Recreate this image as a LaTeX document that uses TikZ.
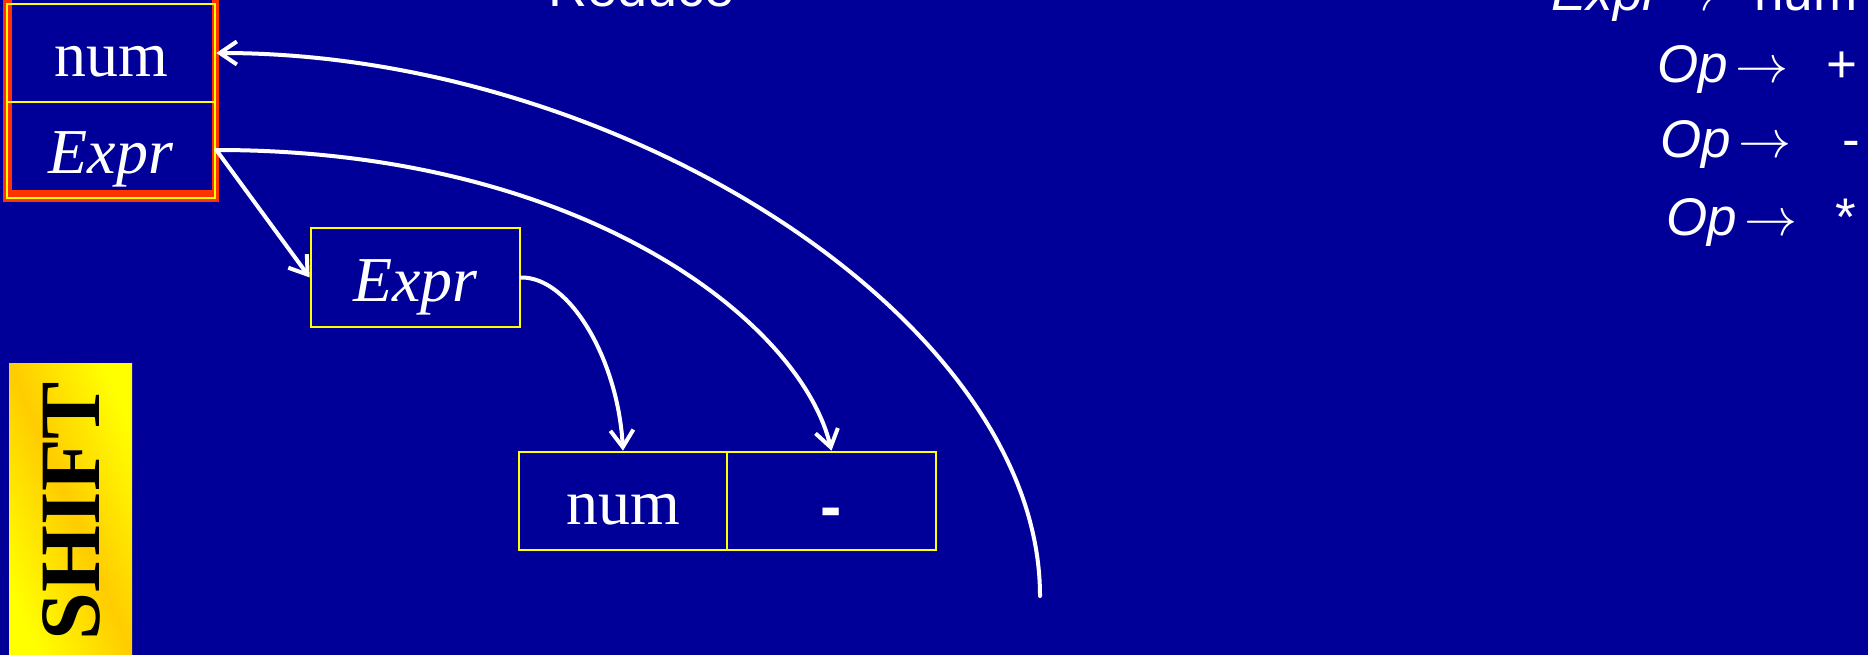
\documentclass[tikz,border=0pt]{standalone}
\usepackage{fontspec}
\setmainfont{Liberation Serif}
\newfontfamily\sansf{Liberation Sans}
\DeclareFontShape{OMS}{cmsy}{m}{n}{<->cmsy10}{}
\DeclareFontShape{OML}{cmm}{m}{it}{<->cmmi10}{}
\DeclareFontShape{OT1}{cmr}{m}{n}{<->cmr10}{}
\DeclareFontShape{OMX}{cmex}{m}{n}{<->cmex10}{}
\usetikzlibrary{arrows.meta}
\definecolor{navy}{RGB}{0,0,153}
\definecolor{boxyellow}{RGB}{255,255,0}
\definecolor{stackred}{RGB}{255,51,0}
\definecolor{shiftorange}{RGB}{255,204,0}
\newcommand{\fsz}[1]{\fontsize{#1}{#1}\selectfont}
\begin{document}
\begin{tikzpicture}[x=1pt,y=-1pt,
  cell/.style={draw=boxyellow, line width=2.6pt, text=white, inner sep=0pt,
    font=\fsz{64}, text height=47pt, text depth=0pt},
  arr/.style={draw=white, line width=4pt, line cap=round, line join=round,
    -{Straight Barb[length=17pt,width=23pt]}},
  gram/.style={text=white, font=\sansf\fsz{53}, inner sep=0pt, anchor=base west},
]
\useasboundingbox (0,0) rectangle (1868,655);
\fill[navy] (0,0) rectangle (1868,655);
% stack frame
\fill[stackred] (3,-5) rectangle (219,202);
\fill[navy] (12,-5) rectangle (212,190);
\node[cell, minimum width=208pt, minimum height=98pt] (snum) at (111,53) {num};
\node[cell, minimum width=208pt, minimum height=96pt] (sexpr) at (111,150) {\itshape Expr};
% middle node
\node[cell, minimum width=209pt, minimum height=99pt] (mexpr) at (415.5,277.5) {\itshape Expr};
% bottom nodes
\node[cell, minimum width=208pt, minimum height=98pt] (bnum) at (623,501) {num};
\node[cell, minimum width=209pt, minimum height=98pt, font=\sansf\bfseries\fsz{64}] (dash) at (831.5,501) {\raisebox{-4pt}{-}};
% SHIFT box
\shade[left color=boxyellow, right color=boxyellow, middle color=shiftorange, shading angle=-67]
  (9,363) rectangle (132,655);
\node[rotate=90, text=black, inner sep=0pt, font=\bfseries\fsz{86}] (shift) at (71.5,511) {SHIFT};
% Reduce title
\node[text=white, font=\sansf\fsz{54}, anchor=base west, inner sep=0pt] (reduce) at (548,7) {Reduce};
% grammar
\node[gram] (g0l) at (1551,11) {\itshape Expr};
\node[gram] (g0a) at (1666,11) {$\rightarrow$};
\node[gram] (g0r) at (1754,11) {num};
\node[gram] (g1l) at (1657,83) {\itshape Op};
\node[gram] (g1a) at (1735,83) {$\rightarrow$};
\node[gram] (g1r) at (1826,83) {+};
\node[gram] (g2l) at (1660,158) {\itshape Op};
\node[gram] (g2a) at (1738,158) {$\rightarrow$};
\node[gram] (g2r) at (1842,158) {-};
\node[gram] (g3l) at (1666,235) {\itshape Op};
\node[gram] (g3a) at (1744,235) {$\rightarrow$};
\node[gram] (g3r) at (1835,235) {*};
% connectors
\coordinate (c1end) at (1040,596);
\draw[arr] (c1end) .. controls (1040,320) and (620,53) .. (snum.east);
\draw[arr] (sexpr.east) .. controls (580,150) and (800,320) .. (dash.north);
\draw[arr] (sexpr.east) -- (mexpr.west);
\draw[arr] (mexpr.east) .. controls (570,277) and (618,360) .. (bnum.north);
\end{tikzpicture}
\end{document}
